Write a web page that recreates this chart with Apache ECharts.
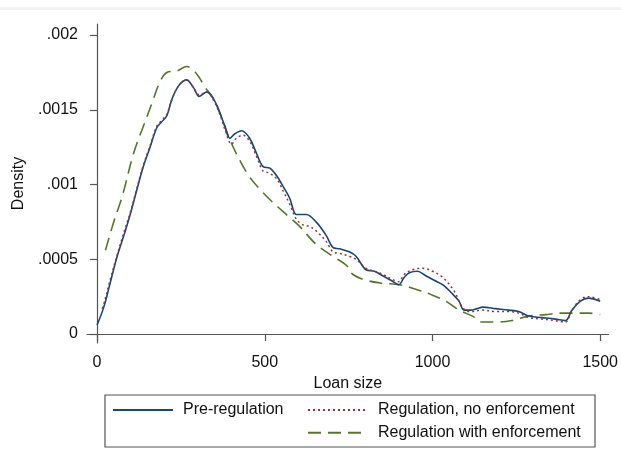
<!DOCTYPE html>
<html>
<head>
<meta charset="utf-8">
<script src="https://cdn.jsdelivr.net/npm/echarts@6/dist/echarts.min.js"></script>
<style>
  html, body { margin: 0; padding: 0; background: #fff; }
  #chart { width: 621px; height: 463px; }
</style>
</head>
<body>
<div id="chart"></div>
<script>
// Kernel density estimates of loan size under three regimes
var xPre = [0, 20, 40, 60, 80, 100, 118, 138, 158, 178, 193, 208, 223, 243, 267, 287, 305, 327, 348, 366, 381, 396, 411, 431, 455, 475, 495, 515, 535, 554, 574, 594, 610, 624, 653, 683, 703, 723, 752, 772, 802, 827, 851, 876, 899, 916, 931, 955, 980, 1005, 1030, 1059, 1079, 1094, 1114, 1133, 1150, 1188, 1228, 1257, 1287, 1327, 1366, 1396, 1416, 1441, 1465, 1500];
var yPre = [0.00006, 0.00018, 0.00035, 0.00052, 0.00066, 0.00081, 0.00096, 0.00112, 0.00125, 0.00138, 0.00142, 0.00146, 0.00157, 0.00166, 0.00170, 0.00165, 0.00159, 0.00162, 0.00157, 0.00148, 0.00139, 0.00131, 0.00134, 0.00136, 0.00131, 0.00121, 0.00112, 0.00111, 0.00106, 0.00099, 0.00091, 0.00080, 0.00080, 0.00080, 0.00075, 0.00066, 0.00058, 0.00057, 0.00055, 0.00052, 0.00043, 0.00042, 0.00039, 0.00036, 0.00033, 0.00038, 0.00041, 0.00042, 0.00039, 0.00036, 0.00033, 0.00027, 0.00022, 0.00016, 0.00016, 0.00017, 0.00018, 0.00017, 0.00016, 0.00015, 0.00012, 0.00011, 0.00010, 0.00009, 0.00016, 0.00022, 0.00024, 0.00022];

var xNoEnf = [15, 20, 40, 60, 80, 100, 118, 138, 158, 178, 193, 208, 223, 243, 267, 287, 305, 327, 348, 366, 381, 401, 415, 435, 455, 475, 495, 510, 535, 554, 574, 594, 614, 634, 653, 683, 703, 723, 752, 772, 802, 827, 851, 876, 899, 916, 940, 970, 1000, 1030, 1064, 1089, 1110, 1150, 1188, 1228, 1257, 1287, 1327, 1366, 1396, 1416, 1441, 1465, 1500];
var yNoEnf = [0.00017, 0.00020, 0.00037, 0.00053, 0.00068, 0.00082, 0.00097, 0.00113, 0.00126, 0.00139, 0.00143, 0.00147, 0.00157, 0.00166, 0.00170, 0.00165, 0.00160, 0.00162, 0.00156, 0.00147, 0.00137, 0.00127, 0.00131, 0.00133, 0.00129, 0.00119, 0.00109, 0.00108, 0.00104, 0.00096, 0.00087, 0.00077, 0.00073, 0.00072, 0.00069, 0.00062, 0.00055, 0.00054, 0.00052, 0.00050, 0.00044, 0.00042, 0.00040, 0.00037, 0.00035, 0.00040, 0.00043, 0.00044, 0.00042, 0.00038, 0.00029, 0.00018, 0.00015, 0.00016, 0.00015, 0.00015, 0.00014, 0.00011, 0.00010, 0.00009, 0.00008, 0.00016, 0.00023, 0.00025, 0.00023];

var xEnf = [25, 51, 75, 109, 138, 163, 188, 208, 238, 267, 297, 322, 346, 366, 396, 426, 455, 485, 515, 564, 604, 653, 703, 743, 762, 802, 851, 901, 950, 1000, 1040, 1079, 1119, 1148, 1188, 1237, 1287, 1337, 1386, 1426, 1465, 1500];
var yEnf = [0.00056, 0.00076, 0.00092, 0.00121, 0.00139, 0.00154, 0.00169, 0.00175, 0.00176, 0.00179, 0.00174, 0.00165, 0.00158, 0.00148, 0.00130, 0.00116, 0.00105, 0.00097, 0.00090, 0.00080, 0.00072, 0.00060, 0.00052, 0.00046, 0.00040, 0.00036, 0.00034, 0.00033, 0.00030, 0.00026, 0.00022, 0.00016, 0.00012, 0.00008, 0.00008, 0.00009, 0.00012, 0.00013, 0.00014, 0.00014, 0.00014, 0.00013];

var seriesNames = ['Pre-regulation', 'Regulation, no enforcement', 'Regulation with enforcement'];
var xTicks = [0, 500, 1000, 1500];
var yTicks = [0, 0.0005, 0.001, 0.0015, 0.002];

function zip(xs, ys) {
  return xs.map(function (x, i) { return [x, ys[i]]; });
}

var FONT = "'Liberation Sans', Arial, sans-serif";
var AXIS = '#555';

var chart = echarts.init(document.getElementById('chart'), null, { renderer: 'canvas' });

// legend keys show only the line sample, no marker
var legendBase = {
  padding: 0,
  itemWidth: 60, itemHeight: 14,
  itemStyle: { opacity: 0 },
  textStyle: { fontSize: 16, color: '#111', fontFamily: FONT, lineHeight: 20, padding: [0, 0, 0, 5] }
};

chart.setOption({
  animation: false,
  backgroundColor: '#fff',
  textStyle: { fontFamily: FONT },
  grid: { left: 87, right: 11, top: 24, bottom: 120 },
  xAxis: {
    type: 'value',
    min: -30,
    max: 1525,
    name: 'Loan size',
    nameLocation: 'middle',
    nameGap: 25,
    nameTextStyle: { fontSize: 16, color: '#111', fontFamily: FONT },
    axisLine: { show: true, lineStyle: { color: AXIS, width: 1.2 } },
    axisTick: { show: true, length: 7, lineStyle: { color: AXIS, width: 1.2 }, customValues: xTicks },
    axisLabel: {
      fontSize: 16, color: '#111', margin: 12, fontFamily: FONT,
      customValues: xTicks,
      formatter: function (v) { return String(v); }
    },
    splitLine: { show: false }
  },
  yAxis: {
    type: 'value',
    min: -0.00006,
    max: 0.002074,
    name: 'Density',
    nameLocation: 'middle',
    nameGap: 57,
    nameTextStyle: { fontSize: 16, color: '#111', fontFamily: FONT },
    axisLine: { show: true, lineStyle: { color: AXIS, width: 1.2 } },
    axisTick: { show: true, length: 7, lineStyle: { color: AXIS, width: 1.2 }, customValues: yTicks },
    axisLabel: {
      fontSize: 16, color: '#111', margin: 9, fontFamily: FONT,
      customValues: yTicks,
      formatter: function (v) { return v === 0 ? '0' : String(v).replace(/^0/, ''); }
    },
    splitLine: { show: false }
  },
  legend: [
    Object.assign({}, legendBase, {
      data: [seriesNames[0]],
      left: 112, top: 400
    }),
    Object.assign({}, legendBase, {
      data: [seriesNames[1], seriesNames[2]],
      orient: 'vertical',
      left: 307, top: 400, itemGap: 2.7
    })
  ],
  graphic: [
    { type: 'rect', shape: { x: 0, y: 7, width: 621, height: 3 }, style: { fill: '#f3f3f3' }, silent: true },
    { type: 'rect', shape: { x: 105, y: 395, width: 490, height: 52 }, style: { fill: 'none', stroke: '#555', lineWidth: 1.2 }, silent: true }
  ],
  series: [
    {
      name: seriesNames[0], type: 'line', symbol: 'none', smooth: 0.35, z: 3,
      data: zip(xPre, yPre),
      lineStyle: { color: '#1a476f', width: 1.6, type: 'solid' },
      itemStyle: { color: '#1a476f' }
    },
    {
      name: seriesNames[1], type: 'line', symbol: 'none', smooth: 0.35, z: 4,
      data: zip(xNoEnf, yNoEnf),
      lineStyle: { color: '#90353b', width: 1.5, type: [2, 3] },
      itemStyle: { color: '#90353b' }
    },
    {
      name: seriesNames[2], type: 'line', symbol: 'none', smooth: 0.35, z: 2,
      data: zip(xEnf, yEnf),
      lineStyle: { color: '#55752f', width: 1.6, type: [13, 7] },
      itemStyle: { color: '#55752f' }
    }
  ]
});
</script>
</body>
</html>
